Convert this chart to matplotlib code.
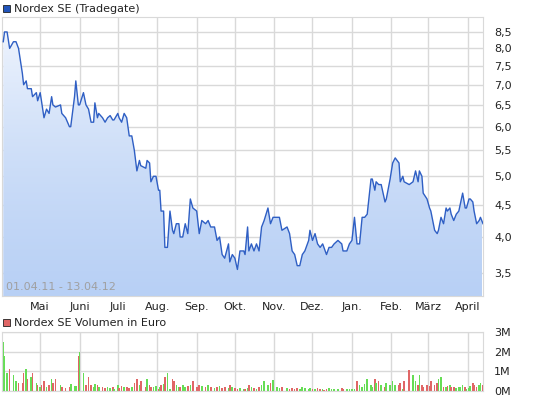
import numpy as np
import matplotlib
matplotlib.use("Agg")
import matplotlib.pyplot as plt
import matplotlib.dates as mdates
from matplotlib.patches import Polygon, Rectangle
from matplotlib.ticker import FixedLocator, NullLocator
import datetime as dt

# days after 2011-04-01 and closing price
days = [1, 2, 4, 6, 9, 11, 13, 16, 17, 19, 20, 23, 24, 27, 28, 30, 31, 33, 35, 37,
        39, 40, 42, 46, 47, 50, 53, 54, 57, 58, 60, 61, 64, 66, 68, 70, 72, 73, 75, 76,
        79, 81, 83, 85, 87, 88, 91, 92, 94, 96, 98, 100, 102, 104, 106, 108, 109, 113, 114, 116,
        117, 119, 121, 123, 124, 125, 127, 128, 130, 132, 134, 135, 137, 139, 140, 142, 144, 146, 148, 150,
        153, 155, 157, 160, 162, 164, 167, 169, 171, 173, 175, 178, 179, 181, 183, 185, 187, 190, 191, 193,
        194, 196, 198, 200, 202, 204, 206, 209, 211, 213, 216, 218, 220, 224, 226, 228, 230, 232, 234, 236,
        238, 241, 242, 244, 246, 248, 250, 252, 253, 255, 257, 259, 261, 264, 267, 268, 271, 273, 275, 277,
        279, 281, 283, 285, 287, 290, 291, 293, 294, 296, 298, 301, 302, 305, 307, 309, 312, 313, 315, 316,
        320, 323, 325, 327, 328, 330, 331, 334, 336, 337, 340, 342, 343, 345, 347, 349, 350, 352, 353, 355,
        357, 359, 360, 362, 364, 365, 367, 368, 370, 371, 373, 375, 376, 378]
price = [8.2, 8.5, 8.5, 8.0, 8.2, 8.2, 8.0, 7.3, 7.0, 7.1, 6.9, 6.9, 6.7, 6.8, 6.6, 6.8, 6.6, 6.2, 6.4, 6.3,
         6.7, 6.5, 6.45, 6.5, 6.3, 6.2, 6.0, 6.0, 6.7, 7.1, 6.5, 6.5, 6.8, 6.5, 6.4, 6.1, 6.1, 6.55, 6.2, 6.3,
         6.2, 6.1, 6.2, 6.25, 6.15, 6.15, 6.3, 6.2, 6.1, 6.3, 6.2, 5.8, 5.8, 5.5, 5.1, 5.3, 5.2, 5.15, 5.3, 5.25,
         4.9, 5.0, 5.0, 4.75, 4.75, 4.4, 4.4, 3.85, 3.85, 4.4, 4.1, 4.05, 4.2, 4.2, 4.0, 4.0, 4.2, 4.05, 4.6, 4.45,
         4.4, 4.05, 4.25, 4.2, 4.25, 4.15, 4.15, 3.95, 4.0, 3.75, 3.7, 3.9, 3.65, 3.75, 3.7, 3.55, 3.8, 3.8, 3.75, 4.15,
         3.8, 3.9, 3.8, 3.9, 3.8, 4.15, 4.25, 4.45, 4.2, 4.3, 4.3, 4.3, 4.1, 4.15, 4.05, 3.8, 3.75, 3.6, 3.6, 3.75,
         3.8, 3.95, 4.1, 3.95, 4.05, 3.9, 3.85, 3.9, 3.85, 3.75, 3.85, 3.85, 3.9, 3.95, 3.9, 3.8, 3.8, 3.9, 3.95, 4.3,
         3.9, 3.9, 4.3, 4.3, 4.35, 4.95, 4.95, 4.75, 4.9, 4.85, 4.85, 4.55, 4.6, 4.95, 5.25, 5.35, 5.25, 4.9, 5.0, 4.9,
         4.85, 4.9, 5.1, 4.9, 5.1, 5.0, 4.7, 4.6, 4.45, 4.4, 4.1, 4.05, 4.1, 4.3, 4.2, 4.45, 4.4, 4.45, 4.35, 4.25,
         4.35, 4.4, 4.5, 4.7, 4.45, 4.45, 4.6, 4.6, 4.55, 4.4, 4.2, 4.25, 4.3, 4.2]
# volume in million euro per point
volume = [2.5, 1.8, 0.9, 1.1, 0.8, 0.5, 0.4, 0.4, 0.9, 1.1, 0.6, 0.7, 0.9, 0.4, 0.3, 0.2, 0.3, 0.5, 0.2, 0.3,
          0.6, 0.4, 0.6, 0.3, 0.2, 0.15, 0.2, 0.35, 0.25, 0.25, 1.8, 2.0, 0.9, 0.3, 0.7, 0.3, 0.2, 0.35, 0.3, 0.2,
          0.2, 0.15, 0.2, 0.15, 0.2, 0.1, 0.3, 0.15, 0.25, 0.2, 0.2, 0.15, 0.2, 0.4, 0.6, 0.3, 0.5, 0.2, 0.6, 0.3,
          0.2, 0.2, 0.25, 0.1, 0.2, 0.3, 0.35, 0.7, 0.9, 0.1, 0.6, 0.5, 0.3, 0.2, 0.2, 0.3, 0.2, 0.25, 0.3, 0.5,
          0.2, 0.3, 0.25, 0.2, 0.3, 0.2, 0.15, 0.2, 0.25, 0.15, 0.2, 0.15, 0.3, 0.2, 0.15, 0.1, 0.15, 0.1, 0.1, 0.15,
          0.3, 0.2, 0.15, 0.1, 0.2, 0.3, 0.5, 0.3, 0.4, 0.55, 0.2, 0.15, 0.2, 0.15, 0.1, 0.15, 0.1, 0.15, 0.1, 0.2,
          0.15, 0.1, 0.15, 0.1, 0.1, 0.15, 0.1, 0.1, 0.05, 0.1, 0.15, 0.1, 0.1, 0.1, 0.15, 0.1, 0.1, 0.1, 0.1, 0.1,
          0.5, 0.3, 0.2, 0.35, 0.6, 0.3, 0.2, 0.6, 0.4, 0.5, 0.3, 0.2, 0.4, 0.3, 0.5, 0.3, 0.3, 0.4, 0.1, 0.5,
          1.05, 0.8, 0.5, 0.3, 0.8, 0.3, 0.2, 0.3, 0.25, 0.5, 0.3, 0.4, 0.6, 0.7, 0.2, 0.2, 0.25, 0.3, 0.2, 0.2,
          0.15, 0.2, 0.2, 0.3, 0.2, 0.1, 0.15, 0.25, 0.4, 0.3, 0.2, 0.3, 0.4, 0.3, 0.15, 0.1]

month_labels = ["Mai", "Juni", "Juli", "Aug.", "Sep.", "Okt.", "Nov.", "Dez.", "Jan.", "Feb.", "März", "April"]
price_ticks = [3.5, 4.0, 4.5, 5.0, 5.5, 6.0, 6.5, 7.0, 7.5, 8.0, 8.5]

start = dt.date(2011, 4, 1)
dates = [start + dt.timedelta(days=d) for d in days]
x = mdates.date2num(dates)
xmin = mdates.date2num(start)
xmax = mdates.date2num(dt.date(2012, 4, 13))
months = [mdates.date2num(dt.date(2011 + (m > 12), (m - 1) % 12 + 1, 1)) for m in range(5, 17)]

W, H = 545, 401
fig = plt.figure(figsize=(W / 100, H / 100), dpi=100)
grid_c = "#d9d9d9"
line_c = "#2f5fc4"
txt_c = "#222222"


def box(l, t, r, b):
    return [l / W, 1 - b / H, (r - l) / W, (b - t) / H]


ax = fig.add_axes(box(2, 17, 483, 296))
ax.set_yscale("log")
ymin, ymax = 3.22, 8.98
ax.set_xlim(xmin, xmax)
ax.set_ylim(ymin, ymax)

# gradient fill under the line
grad = np.linspace(0, 1, 256).reshape(-1, 1)
cmap = matplotlib.colors.LinearSegmentedColormap.from_list("g", ["#b8d0f5", "#f3f7fe"])
im = ax.imshow(grad, cmap=cmap, aspect="auto", origin="lower",
               extent=[xmin, xmax, ymin, ymax], zorder=1)
poly = Polygon(np.column_stack([np.r_[x[0], x, x[-1]], np.r_[ymin, price, ymin]]),
               closed=True, transform=ax.transData, facecolor="none", edgecolor="none")
ax.add_patch(poly)
im.set_clip_path(poly)
ax.plot(x, price, color=line_c, lw=1.0, zorder=3)

ax.yaxis.set_major_locator(FixedLocator(price_ticks))
ax.yaxis.set_minor_locator(NullLocator())
ax.set_yticklabels([f"{v:.1f}".replace(".", ",") for v in price_ticks])
ax.xaxis.set_major_locator(FixedLocator(months))
ax.set_xticklabels(month_labels)
ax.yaxis.tick_right()
ax.grid(True, color=grid_c, lw=1, zorder=0)
ax.tick_params(length=0, labelsize=8, colors=txt_c, pad=4)
ax.tick_params(axis="y", pad=8)
for s in ax.spines.values():
    s.set_color(grid_c)
ax.text(0.008, 0.02, "01.04.11 - 13.04.12", transform=ax.transAxes, fontsize=8,
        color="#a0a0a0", zorder=4)
ax.set_axisbelow(True)

# volume panel
vx = fig.add_axes(box(2, 332, 483, 391))
colors = ["#e06666" if i > 0 and price[i] < price[i - 1] else "#66dd55" for i in range(len(price))]
n = min(len(x), len(volume))
vx.bar(x[:n], volume[:n], width=1.3, color=colors[:n], zorder=2)
vx.set_xlim(xmin, xmax)
vx.set_ylim(0, 3)
vx.set_yticks([0, 1, 2, 3])
vx.set_yticklabels(["0M", "1M", "2M", "3M"])
vx.yaxis.tick_right()
vx.xaxis.set_major_locator(FixedLocator(months))
vx.set_xticklabels([])
vx.grid(True, color=grid_c, lw=1, zorder=0)
vx.tick_params(length=0, labelsize=8, colors=txt_c, pad=8)
for s in vx.spines.values():
    s.set_color(grid_c)

# legend labels
fig.patches.append(Rectangle((3 / W, 1 - 12 / H), 7 / W, 7 / H, transform=fig.transFigure,
                             facecolor="#2255bb", edgecolor="#222222", lw=0.6))
fig.text(14 / W, 1 - 12 / H, "Nordex SE (Tradegate)", fontsize=8, color=txt_c)
fig.patches.append(Rectangle((3 / W, 1 - 326 / H), 7 / W, 7 / H, transform=fig.transFigure,
                             facecolor="#e06666", edgecolor="#222222", lw=0.6))
fig.text(14 / W, 1 - 326 / H, "Nordex SE Volumen in Euro", fontsize=8, color=txt_c)

fig.savefig("out.png", dpi=100)
